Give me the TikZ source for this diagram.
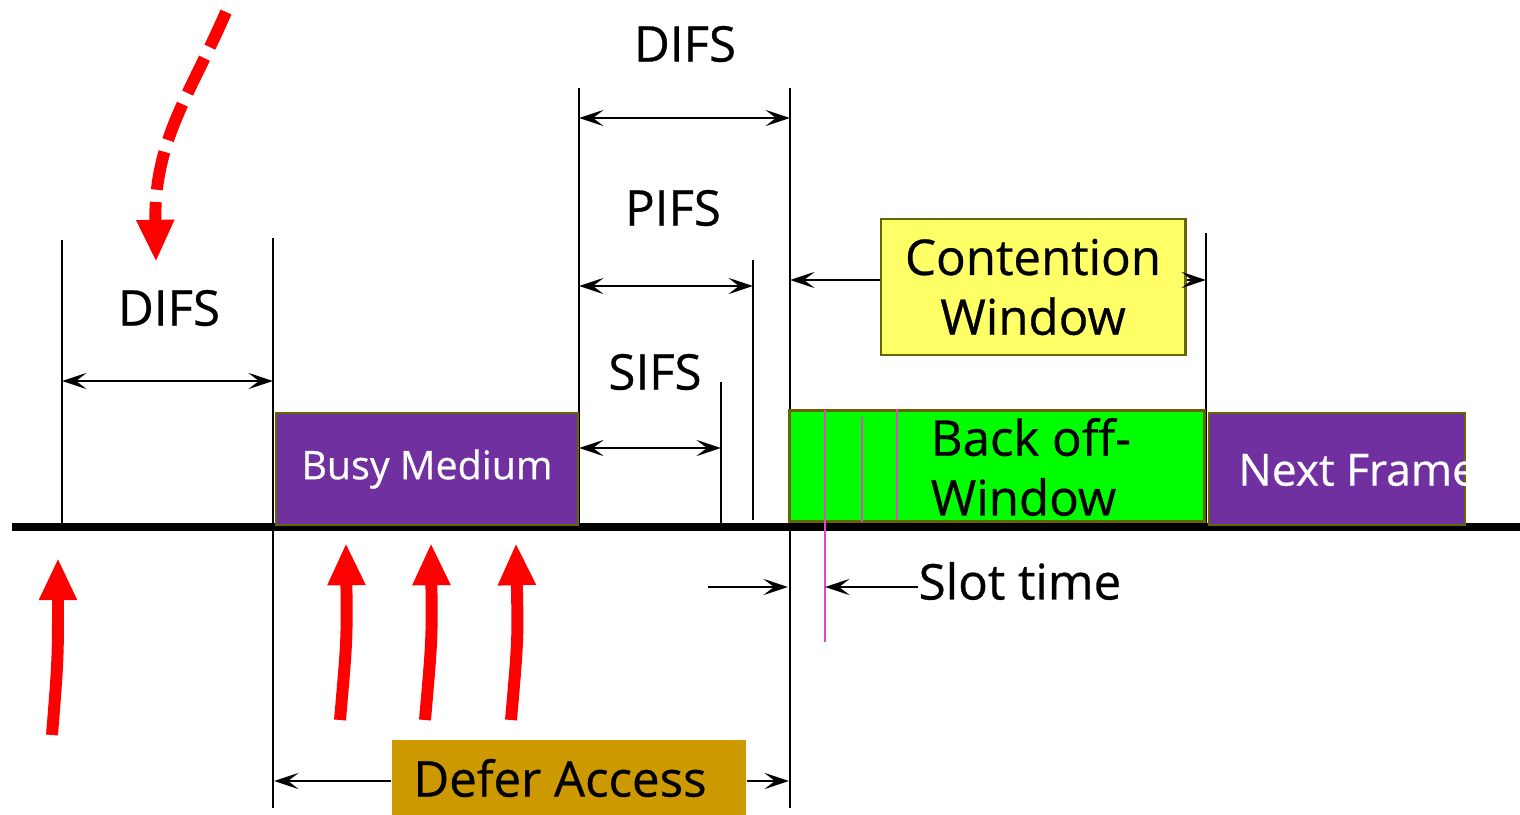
\documentclass[tikz,border=0pt]{standalone}
\usepackage{fontspec}
\setmainfont{Open Sans}[FakeBold=0.6]
\usetikzlibrary{arrows.meta}
\definecolor{busy}{RGB}{112,48,160}
\definecolor{rim}{RGB}{102,102,0}
\definecolor{cwin}{RGB}{255,255,102}
\definecolor{defer}{RGB}{204,153,0}
\definecolor{slot}{RGB}{224,72,204}
\tikzset{
  tick/.style={line width=0.6pt},
  dim/.style={line width=0.6pt,{Stealth[length=7pt,width=4.6pt,inset=3pt]}-{Stealth[length=7pt,width=4.6pt,inset=3pt]}},
  onedim/.style={line width=0.6pt,-{Stealth[length=7pt,width=4.6pt,inset=3pt]}},
  box/.style={draw=rim,line width=0.8pt,inner sep=0pt},
  big/.style={font=\fontsize{14}{17}\selectfont},
  hit/.style={red,line width=3.4pt,-{Triangle[length=12pt,width=10pt]}}
}
\begin{document}
\begin{tikzpicture}[x=0.01cm,y=-0.01cm]
\useasboundingbox (0,0) rectangle (1520,815);
%medium
\draw[line width=2pt] (12,527)--(1520,527);
%tider
\coordinate (a) at (62,527);
\coordinate (b) at (273,527);
\coordinate (c) at (579,527);
\coordinate (d) at (721,523);
\coordinate (e) at (753,520);
\coordinate (f) at (790,527);
\coordinate (g) at (1206,527);
\draw[tick] (a)--(62,240);
\draw[tick] (273,808)--(273,238);
\draw[tick] (c)--(579,88);
\draw[tick] (d)--(721,382);
\draw[tick] (e)--(753,260);
\draw[tick] (790,808)--(790,88);
\draw[tick] (g)--(1206,233);
%DIFS venstre
\node[big] (difs1) at (169,308) {DIFS};
\draw[dim] (62,381)--(273,381);
%kasser
\node[box,fill=busy,minimum width=3.02cm,minimum height=1.12cm,text=white,font=\fontsize{11.2}{13}\selectfont] (busymed) at (427,469) {Busy Medium};
\node[box,fill=green,minimum width=4.14cm,minimum height=1.11cm] (backoff) at (997,466) {};
\node[box,fill=busy,minimum width=2.56cm,minimum height=1.12cm] (nextfr) at (1337,469) {};
\node[text=white,anchor=west,font=\fontsize{12.6}{15}\selectfont] (nextlbl) at (1226,470) {Next Frame};
%IFS
\node[big] (difs2) at (685,44) {DIFS};
\draw[dim] (579,118)--(790,118);
\node[big] (pifs) at (673,208) {PIFS};
\draw[dim] (579,286)--(753,286);
\node[big] (sifs) at (655,372) {SIFS};
\draw[dim] (579,448)--(721,448);
%contention
\node[box,fill=cwin,minimum width=3.04cm,minimum height=1.36cm,big,align=center] (contwin) at (1033,287) {Contention\\Window};
\draw[onedim] (contwin.west|-0,280)--(790,280);
\draw[onedim] (contwin.east|-0,280)--(1206,280);
%backoff
\draw[slot,line width=0.6pt] (825,410)--(825,642);
\draw[slot,line width=0.6pt] (862,417)--(862,522);
\draw[slot,line width=0.6pt] (897,409)--(897,520);
\node[big,anchor=west,align=left,inner sep=0pt] (bolbl) at (930,467) {Back off-\\Window};
%slot
\node[big,anchor=west,inner sep=0pt] (slotlbl) at (918,581) {Slot time};
\draw[onedim] (slotlbl.west|-0,587)--(825,587);
\draw[onedim] (708,587)--(788,587);
%defer
\node[fill=defer,minimum width=3.54cm,minimum height=0.75cm,big] (deferacc) at (569,778) {};
\node[big] (deferlbl) at (560,778) {Defer Access};
\draw[onedim] (deferacc.west|-0,781)--(274,781);
\draw[onedim] (deferacc.east|-0,781)--(789,781);
%pile
\draw[hit] (52,735) .. controls (58,660) .. (58,558);
\draw[hit] (340,720) .. controls (347,640) .. (346,543);
\draw[hit] (425,720) .. controls (432,640) .. (431,543);
\draw[hit] (511,720) .. controls (518,640) .. (516,543);
\draw[hit,dash pattern=on 11pt off 3.5pt] (226,12) .. controls (190,95) and (154,140) .. (156,262);
\end{tikzpicture}
\end{document}
